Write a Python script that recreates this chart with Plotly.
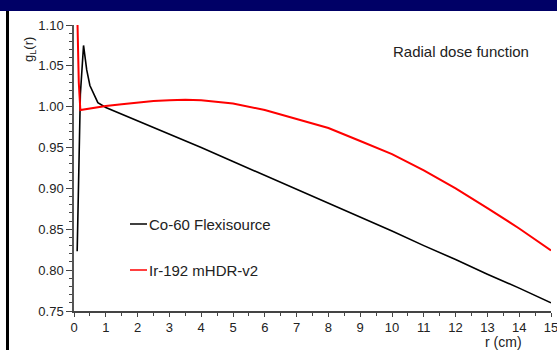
import plotly.graph_objects as go

# ---- data ----
co60_r = [0.1, 0.15, 0.2, 0.3, 0.4, 0.5, 0.75, 1.0, 1.5, 2, 3, 4, 5, 6, 7, 8, 9, 10, 11, 12, 13, 14, 15]
co60_g = [0.823, 0.94, 1.015, 1.075, 1.045, 1.026, 1.005, 0.999, 0.991, 0.983, 0.966, 0.950, 0.933,
          0.916, 0.899, 0.882, 0.865, 0.848, 0.830, 0.813, 0.795, 0.778, 0.760]

ir192_r = [0.1, 0.15, 0.2, 0.5, 1, 1.5, 2, 2.5, 3, 3.5, 4, 5, 6, 7, 8, 9, 10, 11, 12, 13, 14, 15]
ir192_g = [1.12, 1.03, 0.996, 0.998, 1.001, 1.003, 1.005, 1.007, 1.008, 1.0085, 1.008, 1.004, 0.996,
           0.985, 0.974, 0.958, 0.942, 0.922, 0.900, 0.876, 0.851, 0.824]

series_names = ["Co-60 Flexisource", "Ir-192 mHDR-v2"]
series_colors = ["#000000", "#ff0000"]

# ---- layout geometry (pixels) ----
W, H = 557, 350
ML, MR, MT, MB = 74, 6, 25, 39
PW, PH = W - ML - MR, H - MT - MB


def px(x):
    return (x - ML) / PW


def py(y):
    return (H - MB - y) / PH


FONT = "Liberation Sans, Arial, sans-serif"
TXT = "#222222"

fig = go.Figure()
fig.add_trace(go.Scatter(x=co60_r, y=co60_g, mode="lines", name=series_names[0],
                         line=dict(color=series_colors[0], width=1.6), showlegend=False))
fig.add_trace(go.Scatter(x=ir192_r, y=ir192_g, mode="lines", name=series_names[1],
                         line=dict(color=series_colors[1], width=2), showlegend=False))

fig.update_layout(
    width=W, height=H,
    margin=dict(l=ML, r=MR, t=MT, b=MB, pad=0, autoexpand=False),
    paper_bgcolor="white", plot_bgcolor="white",
    font=dict(family=FONT, size=13, color=TXT),
    xaxis=dict(range=[0, 15], dtick=1, showgrid=False, zeroline=False, automargin=False,
               showline=True, linecolor="#444444", linewidth=1.5,
               ticks="outside", ticklen=4, tickcolor="#444444",
               ticklabeloverflow="allow",
               minor=dict(dtick=0.5, ticks="outside", ticklen=3, tickcolor="#444444"),
               tickfont=dict(size=13, color=TXT)),
    yaxis=dict(range=[0.75, 1.10], dtick=0.05, tickformat=".2f", showgrid=False, zeroline=False,
               automargin=False,
               showline=True, linecolor="#555555", linewidth=1.5,
               ticks="outside", ticklen=6, tickcolor="#444444",
               minor=dict(dtick=0.01, ticks="outside", ticklen=3, tickcolor="#444444"),
               tickfont=dict(size=13, color=TXT)),
)

shapes = [
    # navy header bar
    dict(type="rect", xref="paper", yref="paper", x0=px(0), x1=px(W), y0=py(11), y1=py(0),
         fillcolor="#000066", line=dict(width=0), layer="above"),
    # left black frame line
    dict(type="rect", xref="paper", yref="paper", x0=px(6), x1=px(9), y0=py(H), y1=py(11),
         fillcolor="#000000", line=dict(width=0), layer="above"),
]
# legend line samples
for i, (name, col) in enumerate(zip(series_names, series_colors)):
    yy = [224, 270][i]
    shapes.append(dict(type="line", xref="paper", yref="paper", x0=px(130), x1=px(147),
                       y0=py(yy), y1=py(yy), line=dict(color=col, width=1.5)))
fig.update_layout(shapes=shapes)

annotations = [
    dict(text="g<sub>L</sub>(r)", xref="paper", yref="paper", x=px(29), y=py(50),
         xanchor="center", yanchor="middle",
         textangle=-90, showarrow=False, font=dict(size=13, color=TXT)),
    dict(text="r (cm)", xref="paper", yref="paper", x=px(503), y=py(342),
         xanchor="center", yanchor="middle",
         showarrow=False, font=dict(size=14, color=TXT)),
    dict(text="Radial dose function", xref="paper", yref="paper", x=px(461), y=py(52),
         xanchor="center", yanchor="middle",
         showarrow=False, font=dict(size=15, color=TXT)),
]
for i, name in enumerate(series_names):
    yy = [224, 270][i]
    annotations.append(dict(text=name, xref="paper", yref="paper", x=px(147), y=py(yy),
                            xanchor="left", yanchor="middle", showarrow=False,
                            font=dict(size=15, color=TXT)))
fig.update_layout(annotations=annotations)

fig.write_html("out.html")
